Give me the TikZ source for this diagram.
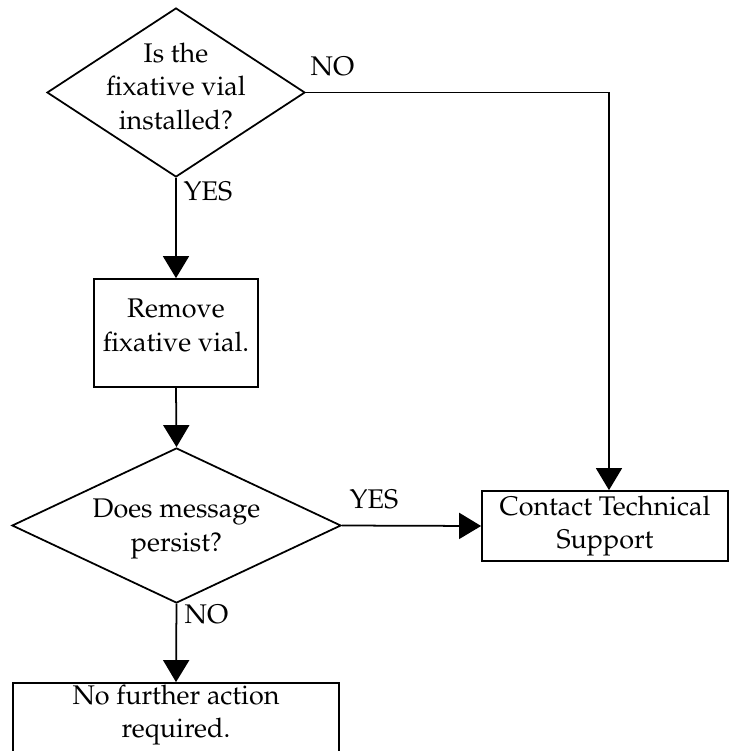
\documentclass[tikz,border=0pt]{standalone}
\usepackage[T1]{fontenc}
\usepackage{mathpazo}
\usepackage{tikz}
\usetikzlibrary{arrows.meta,shapes.geometric}

\tikzset{
  flow/.style={line width=1.5pt, -{Triangle[length=0.66cm,width=0.78cm]}},
  decision/.style={draw, line width=1.5pt, diamond, inner sep=0pt},
  stepbox/.style={draw, line width=1.5pt, rectangle, inner sep=0pt, align=center},
  txt/.style={align=center, inner sep=0pt},
  answer/.style={inner sep=0pt, anchor=base}
}

\begin{document}
\begin{tikzpicture}[x=0.03cm, y=-0.03cm, font=\fontsize{23}{28.5}\selectfont]
  \useasboundingbox (0,0) rectangle (729,751);
  % shapes
  \node[decision, minimum width=7.74cm, minimum height=5.07cm] (q1) at (176,92.5) {};
  \node[stepbox, minimum width=4.92cm, minimum height=3.24cm] (rem) at (176,333) {};
  \node[decision, minimum width=9.87cm, minimum height=4.65cm] (q2) at (176.5,525.5) {};
  \node[stepbox, minimum width=7.38cm, minimum height=2.1cm] (tech) at (605,526) {Contact Technical\\Support};
  \node[stepbox, minimum width=9.78cm, minimum height=2.91cm] (done) at (176,731.5) {};
  % texts
  \node[txt] (q1t) at (176,86.5) {Is the\\fixative vial\\installed?};
  \node[txt] (remt) at (176,325.5) {Remove\\fixative vial.};
  \node[txt] (q2t) at (176.5,529) {Does message\\persist?};
  \node[txt] (donet) at (176,715) {No further action\\required.};
  % connectors
  \coordinate (bend) at (609,92.5);
  \draw[flow] (q1.south) -- (rem.north);
  \draw[flow] (rem.south) -- (q2.north);
  \draw[flow] (q2.south) -- (done.north);
  \draw[flow] (q2.east) -- (tech.west);
  \draw[flow] (q1.east) -- (bend) -- (bend |- tech.north);
  \node[answer] (no1) at (332.5,75) {NO};
  \node[answer] (yes1) at (208,200) {YES};
  \node[answer] (yes2) at (374,508) {YES};
  \node[answer] (no2) at (206.5,623) {NO};
\end{tikzpicture}
\end{document}
